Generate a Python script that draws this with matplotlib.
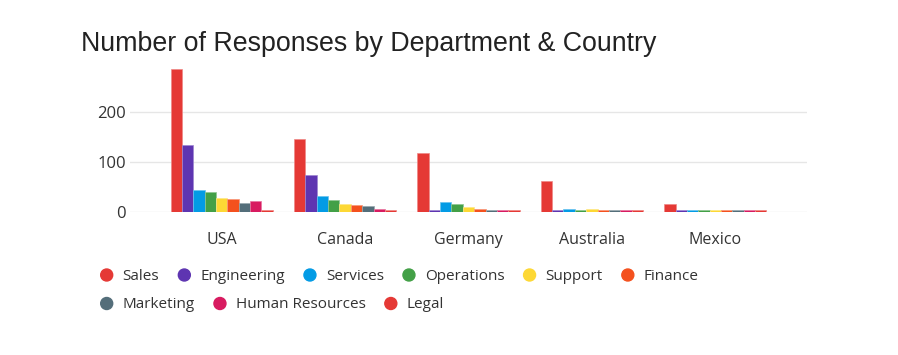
import matplotlib
matplotlib.use("Agg")
import matplotlib.pyplot as plt
import matplotlib.patches as mpatches
import matplotlib.colors as mcolors
import numpy as np

countries = ["USA", "Canada", "Germany", "Australia", "Mexico"]
departments = ["Sales", "Engineering", "Services", "Operations", "Support",
               "Finance", "Marketing", "Human Resources", "Legal"]
sales       = [285, 146, 117, 63, 16]
engineering = [133, 74, 4, 4, 4]
services    = [44, 32, 20, 6, 4]
operations  = [41, 24, 16, 4, 4]
support     = [29, 17, 10, 6, 4]
finance     = [27, 15, 6, 4, 4]
marketing   = [19, 13, 4, 4, 4]
human_res   = [22, 6, 4, 4, 4]
legal       = [4, 5, 4, 4, 4]
series = [sales, engineering, services, operations, support, finance,
          marketing, human_res, legal]
colors = ["#E53935", "#5E35B1", "#039BE5", "#43A047", "#FDD835",
          "#F4511E", "#546E7A", "#D81B60", "#E53935"]
yticks = [0, 100, 200]

W, H = 898, 355
fig = plt.figure(figsize=(W / 100, H / 100), dpi=100)
ax = fig.add_axes([130 / W, 142.7 / H, (807 - 130) / W, 150.9 / H])

x = np.arange(len(countries))
bw = 0.092
n = len(series)
for i, (vals, c) in enumerate(zip(series, colors)):
    off = (i - (n - 1) / 2) * bw
    rgb = np.array(mcolors.to_rgb(c))
    edge = tuple(rgb * 0.6 + 0.4)
    ax.bar(x + off, vals, width=bw, color=c, edgecolor=edge,
           linewidth=0.5, zorder=3)

pad = 30 / 123
ax.set_xlim(-0.5 - pad, len(countries) - 0.5 + pad)
ax.set_ylim(0, 300)
ax.set_yticks(yticks)
ax.set_yticklabels([str(t) for t in yticks], fontfamily="Open Sans",
                   fontsize=12, color="#333333")
ax.set_xticks(x)
ax.set_xticklabels(countries, fontfamily="Open Sans", fontsize=11.5,
                   color="#333333")
ax.tick_params(axis="both", length=0)
ax.tick_params(axis="y", pad=3)
ax.tick_params(axis="x", pad=14.5)
for s in ax.spines.values():
    s.set_visible(False)
ax.grid(axis="y", color="#e6e6e6", linewidth=1, zorder=0)
ax.set_axisbelow(True)

fig.text(81 / W, 1 - 50.7 / H, "Number of Responses by Department & Country",
         fontfamily="Liberation Sans", fontsize=19.3, color="#222222",
         va="baseline", ha="left")

# legend (flow layout)
fig.canvas.draw()
renderer = fig.canvas.get_renderer()
rows = [departments[:6], departments[6:]]
rows_y = [275, 303.5]
k = 0
for row, ypx in zip(rows, rows_y):
    xpx = 106.7
    for name in row:
        c = colors[k]
        k += 1
        fig.patches.append(mpatches.Ellipse(
            (xpx / W, 1 - ypx / H), 12 / W, 12 / H, transform=fig.transFigure,
            color=c, figure=fig))
        t = fig.text((xpx + 16) / W, 1 - (ypx + 1.5) / H, name,
                     fontfamily="Open Sans", fontsize=11, color="#333333",
                     va="center", ha="left")
        bb = t.get_window_extent(renderer)
        xpx = bb.x1 + 25

fig.savefig("out.png", dpi=100)
